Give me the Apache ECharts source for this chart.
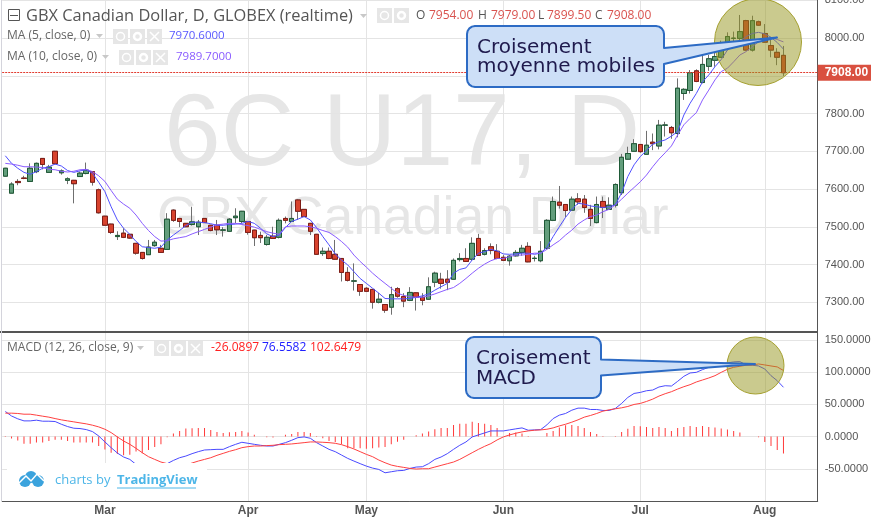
<!DOCTYPE html>
<html>
<head>
<meta charset="utf-8">
<title>6C U17</title>
<script src="https://cdn.jsdelivr.net/npm/echarts@6/dist/echarts.min.js"></script>
<style>
    html, body {margin: 0; padding: 0; background: #fff;}
    #chart {width: 871px; height: 519px;}
</style>
</head>
<body>
<div id="chart"></div>
<script>
const opens = [
    7634, 7589, 7620, 7629, 7620, 7646, 7681, 7644, 7700, 7643,
    7623, 7623, 7633, 7641, 7646, 7598, 7528, 7507, 7474, 7483,
    7480, 7456, 7432, 7426, 7450, 7443, 7440, 7544, 7522, 7509,
    7506, 7500, 7522, 7504, 7504, 7491, 7488, 7524, 7514, 7514,
    7491, 7477, 7453, 7475, 7472, 7522, 7514, 7571, 7546, 7509,
    7480, 7429, 7435, 7427, 7416, 7379, 7356, 7347, 7337, 7334,
    7300, 7294, 7287, 7336, 7315, 7305, 7325, 7313, 7308, 7353,
    7361, 7361, 7361, 7413, 7416, 7414, 7469, 7427, 7447, 7435,
    7419, 7410, 7423, 7432, 7448, 7416, 7410, 7443, 7517, 7565,
    7559, 7544, 7574, 7573, 7546, 7511, 7567, 7546, 7557, 7590,
    7679, 7700, 7718, 7692, 7724, 7714, 7769, 7763, 7747, 7853,
    7861, 7913, 7882, 7925, 7941, 7949, 7981, 7999, 7999, 8046,
    7968, 8043, 8012, 7980, 7962, 7954
]
const closes = [
    7655, 7613, 7617, 7628, 7655, 7668, 7665, 7658, 7667, 7648,
    7627, 7614, 7642, 7650, 7618, 7537, 7504, 7485, 7477, 7472,
    7470, 7430, 7416, 7446, 7459, 7432, 7520, 7517, 7514, 7500,
    7513, 7512, 7511, 7490, 7492, 7491.5, 7520, 7528, 7541, 7485,
    7471, 7471, 7472, 7469, 7517, 7517, 7522, 7541, 7527, 7488,
    7427, 7435, 7416, 7414, 7379, 7358, 7356.5, 7329, 7329, 7300,
    7308, 7279, 7320, 7316, 7303, 7326, 7313, 7305, 7341, 7377,
    7350, 7353, 7411, 7416, 7408, 7456, 7424, 7437, 7437, 7416,
    7411, 7422, 7432, 7443, 7407, 7416.5, 7435, 7517, 7567, 7557,
    7543, 7573, 7566, 7551, 7522, 7559, 7551, 7557, 7612, 7684,
    7694, 7720, 7699, 7716, 7720, 7769, 7769.5, 7749, 7867, 7864,
    7908, 7885, 7930, 7945, 7951, 7983, 8004, 7999.5, 8017, 7968,
    8046, 8034, 7989, 7968, 7949, 7908
]
const lows = [
    7633, 7589, 7610, 7626, 7619, 7642, 7652, 7644, 7666, 7638,
    7613, 7562, 7633, 7639, 7609, 7535, 7503, 7481, 7465, 7470,
    7468, 7426, 7413, 7426, 7447, 7431, 7440, 7513, 7499, 7499,
    7503, 7478, 7510, 7488, 7478, 7474, 7486, 7509, 7509, 7479,
    7449, 7457, 7450, 7468, 7469, 7509, 7514, 7518, 7526, 7478,
    7426, 7423, 7414, 7412, 7355, 7355, 7331, 7317, 7327, 7283,
    7297, 7272, 7267, 7312, 7287, 7303, 7278, 7292, 7306, 7340,
    7336, 7332, 7359, 7408, 7407, 7410, 7423, 7424, 7427, 7414,
    7409, 7397, 7421, 7423, 7406, 7408, 7406, 7440, 7515, 7548,
    7525, 7543, 7558, 7537, 7502, 7509, 7523, 7546, 7551, 7584,
    7678, 7699, 7696, 7691, 7703, 7705, 7739, 7733, 7737, 7836,
    7853, 7883, 7880, 7913, 7924, 7948, 7977, 7981, 7977, 7967,
    7964, 8032, 7988, 7949, 7928, 7899.5
]
const highs = [
    7656, 7618, 7626, 7635, 7668, 7670, 7682, 7664, 7701, 7652,
    7631, 7624, 7646, 7670, 7647, 7601, 7529, 7508, 7488, 7496,
    7481, 7457, 7433, 7465, 7465, 7452, 7536, 7546, 7523, 7510,
    7553, 7518, 7523, 7505, 7518, 7499, 7523, 7549, 7542, 7515,
    7492, 7487, 7478, 7500, 7522, 7527, 7567, 7573, 7547, 7510,
    7481, 7445, 7445, 7465, 7417, 7393, 7403, 7348, 7340, 7335,
    7325, 7295, 7341, 7340, 7324, 7340, 7326, 7324, 7366, 7381,
    7378, 7385, 7416, 7430, 7443, 7472, 7481, 7443, 7456, 7454,
    7425, 7425, 7438, 7452, 7459, 7423, 7462, 7520, 7580, 7608,
    7560, 7580, 7589, 7584, 7558, 7580, 7580, 7578, 7615, 7693,
    7712, 7732, 7719, 7754, 7747, 7783, 7778, 7767, 7893, 7867,
    7915, 7917, 7955, 7955, 7964, 7993, 8015, 8017, 8061, 8048,
    8059, 8046, 8037, 7999, 7973, 7979
]
const ma5 = [
    7688, 7668, 7655, 7644, 7639, 7646, 7655, 7659, 7666, 7661,
    7649, 7644, 7648, 7651, 7642, 7618, 7593, 7553, 7518, 7496,
    7480, 7461, 7447, 7445, 7443, 7446, 7465, 7478, 7490, 7503,
    7512, 7512, 7511, 7508, 7504, 7504, 7506, 7507, 7509, 7514,
    7509, 7496, 7481, 7474, 7478, 7498, 7514, 7520, 7527, 7518,
    7498, 7474, 7452, 7428, 7412, 7399, 7381, 7363, 7350, 7337,
    7324, 7310, 7309, 7309, 7309, 7310, 7313, 7317, 7322, 7332,
    7341, 7350, 7377, 7387, 7391, 7412, 7430, 7434, 7440, 7436,
    7428, 7427, 7428, 7430, 7430, 7427, 7430, 7446, 7474, 7500,
    7525, 7546, 7562, 7560, 7555, 7553, 7551, 7553, 7558, 7590,
    7633, 7664, 7686, 7702, 7719, 7725, 7730, 7740, 7752, 7796,
    7827, 7853, 7884, 7902, 7924, 7943, 7968, 7981, 7990, 8004,
    8012, 8015, 8011, 8002, 7988, 7970.6
]
const ma10 = [
    7668, 7666, 7663, 7659, 7659, 7658, 7657, 7652, 7651, 7647,
    7645, 7647, 7651, 7652, 7646, 7635, 7620, 7596, 7573, 7560,
    7549, 7531, 7509, 7490, 7474, 7462, 7463, 7468, 7471, 7474,
    7481, 7487, 7493, 7499, 7505, 7507, 7509, 7509, 7506, 7503,
    7499, 7493, 7487, 7483, 7480, 7500, 7502, 7502, 7502, 7500,
    7496, 7490, 7485, 7474, 7461, 7446, 7425, 7408, 7393, 7377,
    7363, 7350, 7337, 7324, 7318, 7315, 7313, 7313, 7317, 7322,
    7328, 7334, 7339, 7350, 7363, 7377, 7390, 7401, 7410, 7416,
    7416, 7421, 7425, 7425, 7427, 7430, 7430, 7440, 7452, 7463,
    7478, 7491, 7507, 7518, 7527, 7531, 7540, 7546, 7558, 7573,
    7589, 7604, 7619, 7637, 7659, 7679, 7696, 7714, 7743, 7770,
    7787, 7802, 7836, 7862, 7889, 7911, 7920, 7937, 7955, 7964,
    7977, 7990, 7996, 8001, 7996, 7989.7
]
const macdLine = [
    39, 32, 27.6, 24.4, 24.4, 25.5, 23.9, 23.9, 23.4, 19.2,
    15.6, 13, 12.5, 10.9, 7.8, 1, -8.3, -17.2, -25.5, -31.7,
    -35.4, -43.2, -49.4, -52.5, -51, -45.8, -42, -37, -32.8, -30.2,
    -26.5, -23.4, -20.8, -20.3, -19.8, -19.8, -15.6, -12, -8.8, -10.4,
    -12, -13.5, -14.6, -14.6, -12, -9.4, -5.7, -1.6, -0.5, -2.6,
    -9.4, -14.6, -19.8, -23.4, -28.6, -33.8, -38, -42, -45.8, -48.9,
    -51, -56.2, -54.6, -53, -52.5, -49.4, -47.3, -46.8, -42, -35.4,
    -31.7, -26.5, -19.8, -13.5, -8.3, -0.5, 2.6, 5.7, 8.8, 8.8,
    8.8, 10.4, 12, 13.5, 9.9, 10.4, 10.9, 18.2, 28, 33.3,
    35.9, 41, 44.2, 44.2, 42.1, 42.1, 40.6, 40.6, 43.7, 51.5,
    60.8, 67, 68.6, 71.2, 72.3, 77, 79, 78.5, 85.8, 93.6,
    98.8, 99.8, 104, 107.6, 110.2, 112.8, 114.4, 116, 116.5, 111.3,
    110.8, 109.7, 105, 94.6, 86.8, 76.56
]
const signalLine = [
    36.4, 36.4, 35.9, 34.8, 34.8, 33.3, 31.7, 30.2, 28, 26,
    24.4, 22.9, 21.3, 19.8, 17.7, 15.1, 11.4, 6.2, -0.5, -6.8,
    -12, -18.2, -25, -31.2, -35.4, -39.5, -42, -45.8, -47.3, -44.2,
    -41, -38, -35.4, -32.8, -29.1, -26, -22.9, -20.3, -17.2, -15.6,
    -14.6, -14.6, -14, -13.5, -12.5, -12, -11.4, -10.4, -9.4, -8.3,
    -8.3, -8.8, -9.4, -10.4, -12.5, -15.6, -19.2, -23.4, -27.6, -31.2,
    -36.4, -40.6, -44.2, -46.3, -47.8, -49.4, -50.4, -49.9, -49.9, -47.3,
    -44.7, -42.1, -39.5, -35.4, -30.2, -25, -19.8, -15.1, -10.9, -5.2,
    -0.5, 2.6, 5.2, 7.3, 8.8, 9.9, 10.4, 11.4, 13.5, 16.6,
    19.2, 22.4, 26, 30.2, 32.8, 35.9, 39.5, 41.6, 43.2, 44.7,
    46.8, 49.9, 51.5, 54.6, 58.2, 62.9, 66.6, 69.7, 73.8, 77.5,
    80.6, 84.8, 87.9, 91, 94.6, 99.8, 104.5, 107.6, 109.2, 110.8,
    111.3, 112.8, 111.3, 109.7, 108.2, 102.65
]
const macdHist = [
    1, -3, -6, -11, -11, -9, -9, -7, -5, -5,
    -7, -9, -9, -9, -9, -14.5, -20, -25, -27, -29,
    -28, -23, -26, -21, -16, -12, -1, 4.7, 8.8, 12.5,
    13, 13.5, 13.5, 10.4, 7.3, 5.7, 6.8, 7.3, 8.8, 6.2,
    3, 0, -1, -1.5, 0, 3, 4, 7.3, 7.3, 5.7,
    1, -2.6, -6.8, -8.3, -12, -18, -18, -18, -19, -18,
    -17, -16, -12, -8, -5, 0, 2, 4.7, 7.8, 11.4,
    13.5, 13.5, 18.2, 19.8, 19.8, 22.9, 21.3, 19.8, 18.2, 13.5,
    0, 5.7, 6.2, 4.7, 1, 0, 0, 5.7, 8.8, 14,
    17.7, 18.2, 16.6, 13.5, 7.3, 4.2, 1, 0, 1, 7.3,
    12, 16.6, 16, 15, 13.5, 15, 13.5, 8.8, 13.5, 15,
    16.6, 15, 16.6, 15, 14, 12.5, 10.9, 8.8, 6.2, 0,
    0, -1, -8.3, -14.6, -20.8, -26.09
]
const monthLabels = {16: "Mar", 39: "Apr", 58: "May", 80: "Jun", 102: "Jul", 122: "Aug"}
const lastClose = 7908
// 131 slots, a few stay empty right of the last candle
const categories = Array.from({length: 131}, (_, i) => monthLabels[i] || "")

const up_fill = "#639e7c", up_border = "#1f5a37"
const down_fill = "#d8432e", down_border = "#7f1d16"
const wick_gray = "#6f6f6f"
const axis_dark = "#555"
const grid_gray = "#e4e4e4"
const legend_font = "Open Sans"
const label_font = "Liberation Sans"

const text = (x, y, str, size, fill, extra) => ({
    type: "text", silent: true, z: 33, x: x, y: y,
    style: Object.assign({text: str, fontSize: size, fontFamily: legend_font, fill: fill, textVerticalAlign: "middle"}, extra || {})
})

const triangle = (x, y) => ({
    type: "polygon", silent: true, z: 20,
    shape: {points: [[x, y], [x + 7, y], [x + 3.5, y + 4]]},
    style: {fill: "#c8c8c8"}
})

const thin_line = (x1, y1, x2, y2, color, width) => ({
    type: "line", silent: true, z: 21, shape: {x1, y1, x2, y2}, style: {stroke: color, lineWidth: width}
})

// eye / gear / cross buttons next to the legends
const buttons = (x, y, count) => {
    let out = []
    for (let i = 0; i < count; i++) {
        const bx = x + i * 17
        out.push({type: "rect", silent: true, z: 20, shape: {x: bx, y: y, width: 15, height: 15}, style: {fill: "#e6e6e6"}})
        if (i < 2) {
            out.push({type: "circle", silent: true, z: 21, shape: {cx: bx + 7.5, cy: y + 7.5, r: i == 0 ? 4 : 3.5}, style: {fill: "none", stroke: "#fff", lineWidth: i == 0 ? 1.5 : 2.5}})
        } else {
            out.push(thin_line(bx + 3, y + 3, bx + 12, y + 12, "#fff", 1.5))
            out.push(thin_line(bx + 12, y + 3, bx + 3, y + 12, "#fff", 1.5))
        }
    }
    return out
}

// rounded box outline with a pointer leaving its right side
const box_points = (l, t, r, b, tail) => {
    const c = 8, pts = []
    const corner = (cx, cy, from) => {
        for (let k = 0; k <= 4; k++) {
            const a = (from + k * 22.5) * Math.PI / 180
            pts.push([cx + c * Math.cos(a), cy + c * Math.sin(a)])
        }
    }
    corner(l + c, t + c, 180)
    corner(r - c, t + c, 270)
    tail.forEach(p => pts.push(p))
    corner(r - c, b - c, 0)
    corner(l + c, b - c, 90)
    return pts
}

const callout = (points, lines, tx, ty, step) => [
    {
        type: "polygon", silent: true, z: 31,
        shape: {points: points},
        style: {fill: "#cddff7", stroke: "#2d6bc4", lineWidth: 2, lineJoin: "round"}
    },
    text(tx, ty, lines[0], 20, "#1f1a4d", {fontFamily: "DejaVu Sans"}),
    text(tx, ty + step, lines[1], 20, "#1f1a4d", {fontFamily: "DejaVu Sans"})
]

const option = {
    animation: false,
    backgroundColor: "#fff",
    grid: [
        {left: 2.2, top: 0.25, width: 815.5, height: 339.75, outerBoundsMode: "none"},
        {left: 2.2, top: 340, width: 815.5, height: 161, outerBoundsMode: "none"}
    ],
    xAxis: [
        {
            type: "category", gridIndex: 0, data: categories, boundaryGap: true,
            axisLine: {show: false}, axisTick: {show: false}, axisLabel: {show: false},
            splitLine: {show: true, alignWithLabel: true, interval: (i, name) => name !== "", lineStyle: {color: grid_gray}}
        },
        {
            type: "category", gridIndex: 1, data: categories, boundaryGap: true,
            axisLine: {show: true, onZero: false, lineStyle: {color: axis_dark, width: 1}},
            axisTick: {show: false},
            axisLabel: {show: true, interval: (i, name) => name !== "", color: axis_dark, fontWeight: "bold", fontSize: 12, fontFamily: label_font, margin: 4},
            splitLine: {show: true, alignWithLabel: true, interval: (i, name) => name !== "", lineStyle: {color: grid_gray}}
        }
    ],
    yAxis: [
        {
            type: "value", gridIndex: 0, position: "right", min: 7200, max: 8100, interval: 100,
            axisLine: {show: true, lineStyle: {color: axis_dark}}, axisTick: {show: false},
            axisLabel: {color: axis_dark, fontSize: 11, fontFamily: label_font, margin: 7, formatter: v => v == 7200 ? "" : v.toFixed(2)},
            splitLine: {show: true, lineStyle: {color: grid_gray}}
        },
        {
            type: "value", gridIndex: 1, position: "right", min: -100, max: 150, interval: 50,
            axisLine: {show: true, lineStyle: {color: axis_dark}}, axisTick: {show: false},
            axisLabel: {color: axis_dark, fontSize: 11, fontFamily: label_font, margin: 7, formatter: v => v == -100 ? "" : v.toFixed(4)},
            splitLine: {show: true, lineStyle: {color: grid_gray}}
        }
    ],
    series: [
        {
            // wicks only show from this one, the bodies go on top
            name: "wicks", type: "candlestick", xAxisIndex: 0, yAxisIndex: 0, barWidth: 5, z: 3,
            itemStyle: {color: up_fill, color0: down_fill, borderColor: wick_gray, borderColor0: wick_gray, borderWidth: 1},
            data: opens.map((o, i) => [o, closes[i], lows[i], highs[i]])
        },
        {
            name: "bodies", type: "candlestick", xAxisIndex: 0, yAxisIndex: 0, barWidth: 5, z: 4,
            itemStyle: {color: up_fill, color0: down_fill, borderColor: up_border, borderColor0: down_border, borderWidth: 1},
            data: opens.map((o, i) => [o, closes[i], Math.min(o, closes[i]), Math.max(o, closes[i])])
        },
        {
            name: "MA 5", type: "line", xAxisIndex: 0, yAxisIndex: 0, data: ma5, symbol: "none", z: 5,
            lineStyle: {color: "#5050ff", width: 1}
        },
        {
            name: "MA 10", type: "line", xAxisIndex: 0, yAxisIndex: 0, data: ma10, symbol: "none", z: 5,
            lineStyle: {color: "#8a5cff", width: 1},
            markLine: {
                silent: true, symbol: "none", animation: false, precision: 0,
                lineStyle: {color: "#e23b2e", type: [2, 1], width: 1, opacity: 1},
                label: {show: true, position: "end", distance: 0, formatter: "7908.00", color: "#fff", fontWeight: "bold", fontSize: 12, fontFamily: label_font, backgroundColor: "#d95040", padding: [2, 9, 2, 7]},
                data: [{yAxis: lastClose, lineStyle: {color: "#e23b2e"}}]
            }
        },
        {
            name: "Histogram", type: "bar", xAxisIndex: 1, yAxisIndex: 1, data: macdHist, barWidth: 1, z: 3,
            itemStyle: {color: "#ff3a3a"}
        },
        {
            name: "MACD", type: "line", xAxisIndex: 1, yAxisIndex: 1, data: macdLine, symbol: "none", z: 5,
            lineStyle: {color: "#4a4aff", width: 1}
        },
        {
            name: "Signal", type: "line", xAxisIndex: 1, yAxisIndex: 1, data: signalLine, symbol: "none", z: 5,
            lineStyle: {color: "#ff4040", width: 1}
        }
    ],
    graphic: {elements: [
        // big watermark behind everything
        {type: "text", silent: true, z: -5, x: 164, y: 137, style: {text: "6C U17, D", fontSize: 102, fontFamily: "Liberation Sans", fill: "#e6e6e6", textVerticalAlign: "middle"}},
        {type: "text", silent: true, z: -5, x: 157, y: 219, style: {text: "GBX Canadian Dollar", fontSize: 53.5, fontFamily: "Liberation Sans", fill: "#e6e6e6", textVerticalAlign: "middle"}},

        // frame bits
        {type: "rect", silent: true, z: 10, shape: {x: 0, y: 331, width: 818, height: 2}, style: {fill: axis_dark}},
        {type: "rect", silent: true, z: 10, shape: {x: 1, y: 0, width: 1, height: 501}, style: {fill: "#d4d4dc"}},

        // highlight circles
        {type: "circle", silent: true, z: 30, shape: {cx: 758, cy: 42, r: 43.5}, style: {fill: "rgba(150,150,30,0.5)", stroke: "#a5a030", lineWidth: 1}},
        {type: "circle", silent: true, z: 30, shape: {cx: 755.5, cy: 365.5, r: 28.5}, style: {fill: "rgba(150,150,30,0.5)", stroke: "#a5a030", lineWidth: 1}},

        ...callout(box_points(467, 26, 664, 87, [[664, 48], [777, 37.5], [664, 64]]), ["Croisement", "moyenne mobiles"], 477, 48, 19),
        ...callout(box_points(466, 337, 601, 398, [[601, 359.5], [755, 364], [601, 375.5]]), ["Croisement", "MACD"], 476, 359, 20),

        // title row
        {type: "rect", silent: true, z: 20, shape: {x: 8.5, y: 9.5, width: 11, height: 11}, style: {fill: "none", stroke: "#555", lineWidth: 1}},
        thin_line(10, 15.5, 18, 15.5, "#555", 1),
        text(26, 16, "GBX Canadian Dollar, D, GLOBEX (realtime)", 16.4, "#555"),
        triangle(360, 14),
        ...buttons(377, 8, 2),
        text(416, 16, "O", 12, "#555"),
        text(429, 16, "7954.00", 12, "#d9534f"),
        text(478, 16, "H", 12, "#555"),
        text(491, 16, "7979.00", 12, "#d9534f"),
        text(538, 16, "L", 12, "#555"),
        text(547, 16, "7899.50", 12, "#d9534f"),
        text(595, 16, "C", 12, "#555"),
        text(607, 16, "7908.00", 12, "#d9534f"),

        // MA legends
        text(7, 36, "MA (5, close, 0)", 12, "#666"),
        triangle(96, 34),
        ...buttons(113, 29, 3),
        text(169, 36, "7970.6000", 11.5, "#5a5aff"),
        text(7, 57, "MA (10, close, 0)", 12, "#666"),
        triangle(102, 55),
        ...buttons(119, 50, 3),
        text(176, 57, "7989.7000", 11.5, "#8a5cff"),

        // MACD legend
        text(7, 348, "MACD (12, 26, close, 9)", 12, "#666"),
        triangle(137, 346),
        ...buttons(154, 341, 3),
        text(211, 348, "-26.0897", 12, "#ff2020"),
        text(262, 348, "76.5582", 12, "#2020ff"),
        text(310, 348, "102.6479", 12, "#ff2020"),

        // watermark logo
        {type: "rect", silent: true, z: 15, shape: {x: 7, y: 463, width: 200, height: 37}, style: {fill: "#fff"}},
        {type: "circle", silent: true, z: 20, shape: {cx: 25, cy: 481, r: 6}, style: {fill: "#3ba3dd"}},
        {type: "circle", silent: true, z: 20, shape: {cx: 38, cy: 481, r: 6}, style: {fill: "#3ba3dd"}},
        {type: "circle", silent: true, z: 20, shape: {cx: 31, cy: 477, r: 6}, style: {fill: "#3ba3dd"}},
        {type: "polyline", silent: true, z: 21, shape: {points: [[19, 483], [26, 476], [31, 481], [37, 474], [44, 481]]}, style: {fill: "none", stroke: "#fff", lineWidth: 1.5}},
        text(55, 480, "charts by", 13, "#4db6e8"),
        text(117, 480, "TradingView", 13, "#4db6e8", {fontWeight: "bold"}),
        thin_line(117, 488, 196, 488, "#4db6e8", 1)
    ]}
}

const chart = window.echarts.init(document.getElementById("chart"))
chart.setOption(option)
</script>
</body>
</html>
